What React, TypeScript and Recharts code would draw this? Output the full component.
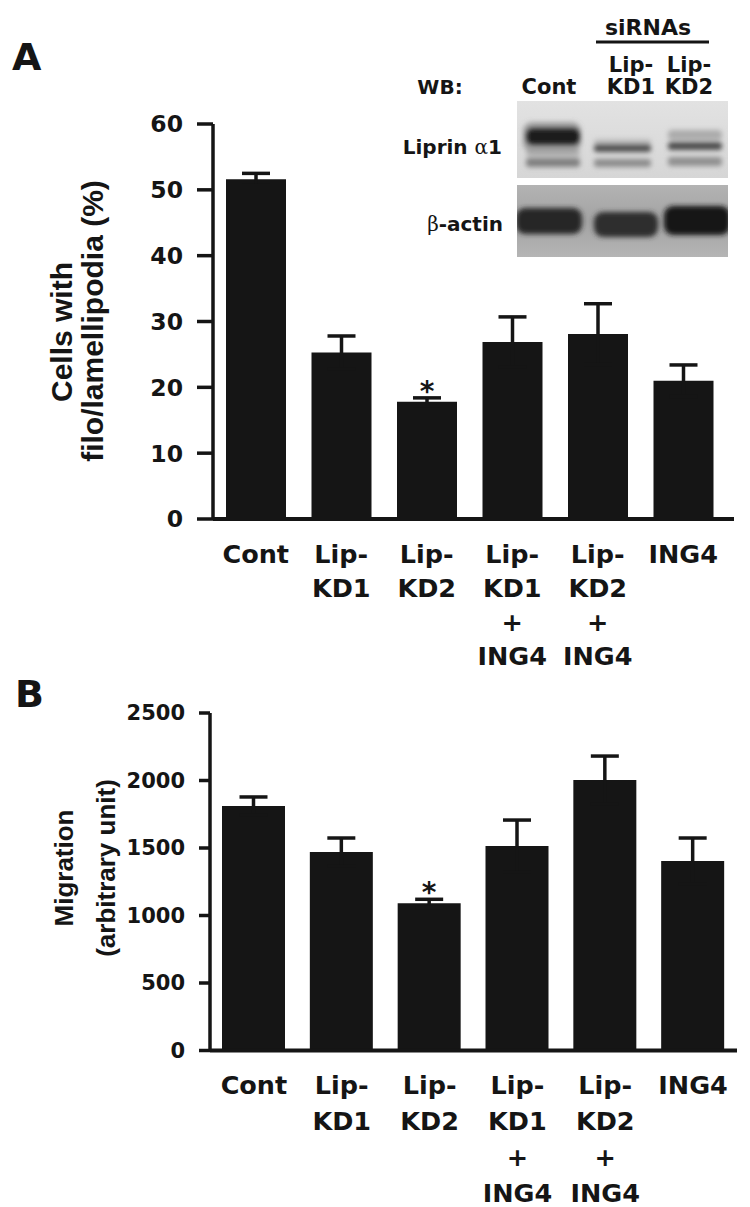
import React from 'react'
import { Bar, BarChart, ErrorBar, LabelList, XAxis, YAxis } from 'recharts'

const categories = ['Cont', 'Lip-\nKD1', 'Lip-\nKD2', 'Lip-\nKD1\n+\nING4', 'Lip-\nKD2\n+\nING4', 'ING4']
const filoValues = [51.6, 25.3, 17.8, 26.9, 28.1, 21.0]
const filoErrors = [0.9, 2.5, 0.6, 3.8, 4.6, 2.4]
const migrationValues = [1811, 1470, 1090, 1515, 2004, 1404]
const migrationErrors = [67, 104, 30, 192, 177, 170]
const significance = ['', '', '*', '', '', '']
const filoTicks = [0, 10, 20, 30, 40, 50, 60]
const migrationTicks = [0, 500, 1000, 1500, 2000, 2500]

const INK = '#151515'
const BOLD = 'DejaVu Sans, sans-serif'
const ARIAL = 'Liberation Sans, Arial, sans-serif'

const filoData = categories.map((name, i) => ({ name, value: filoValues[i], err: filoErrors[i], sig: significance[i] }))
const migrationData = categories.map((name, i) => ({ name, value: migrationValues[i], err: migrationErrors[i], sig: significance[i] }))

function CategoryTick(props: any) {
  const { x, y, payload, firstGap, lineGap } = props
  const lines = String(payload.value).split('\n')
  return (
    <text x={x} y={y + firstGap} textAnchor="middle" fontFamily={BOLD} fontWeight={700} fontSize={25.5} fill={INK}>
      {lines.map((l, i) => (
        <tspan key={i} x={x} dy={i === 0 ? 0 : lineGap}>{l}</tspan>
      ))}
    </text>
  )
}

function Star(props: any) {
  const { x, y, width, value } = props
  if (!value) return null
  return (
    <text x={x + width / 2} y={y - 1} textAnchor="middle" fontFamily={BOLD} fontWeight={700} fontSize={28} fill={INK}>
      {value}
    </text>
  )
}

// western blot inset, drawn as soft blurred bands
function Blot() {
  return (
    <g>
      <defs>
        <filter id="blur" x="-30%" y="-100%" width="160%" height="300%">
          <feGaussianBlur stdDeviation="2.8" />
        </filter>
        <linearGradient id="topBg" x1="0" y1="0" x2="0" y2="1">
          <stop offset="0" stopColor="#e2e2e2" />
          <stop offset="1" stopColor="#d6d6d6" />
        </linearGradient>
        <linearGradient id="botBg" x1="0" y1="0" x2="0" y2="1">
          <stop offset="0" stopColor="#b3b3b3" />
          <stop offset="0.5" stopColor="#a3a3a3" />
          <stop offset="1" stopColor="#b5b5b5" />
        </linearGradient>
        <clipPath id="topClip"><rect x={517} y={101} width={211} height={77} /></clipPath>
        <clipPath id="botClip"><rect x={517} y={185} width={211} height={72} /></clipPath>
      </defs>
      <rect x={517} y={101} width={211} height={77} fill="url(#topBg)" />
      <g clipPath="url(#topClip)">
        <g filter="url(#blur)">
          <rect x={523} y={122} width={58} height={30} rx={9} fill="#6a6a6a" opacity={0.55} />
          <rect x={526} y={128} width={54} height={17} rx={7} fill="#1c1c1c" />
          <rect x={526} y={150} width={54} height={6} rx={3} fill="#9a9a9a" opacity={0.7} />
          <rect x={526} y={158} width={54} height={9} rx={3} fill="#808080" />
          <rect x={594} y={139} width={57} height={6} rx={3} fill="#bdbdbd" />
          <rect x={594} y={144} width={57} height={8} rx={3} fill="#505050" />
          <rect x={594} y={159} width={57} height={8} rx={3} fill="#8c8c8c" />
          <rect x={668} y={130} width={54} height={10} rx={4} fill="#ababab" />
          <rect x={668} y={142} width={54} height={8} rx={3} fill="#4c4c4c" />
          <rect x={668} y={157} width={54} height={9} rx={3} fill="#909090" />
        </g>
      </g>
      <rect x={517} y={185} width={211} height={72} fill="url(#botBg)" />
      <g clipPath="url(#botClip)">
        <g filter="url(#blur)">
          <rect x={516} y={208} width={66} height={26} rx={9} fill="#282828" />
          <rect x={594} y={212} width={64} height={25} rx={9} fill="#2d2d2d" />
          <rect x={664} y={206} width={66} height={29} rx={9} fill="#151515" />
        </g>
      </g>
    </g>
  )
}

function Overlay() {
  return (
    <svg width={750} height={1207} style={{ position: 'absolute', left: 0, top: 0, pointerEvents: 'none' }}>
      <text x={12} y={70} fontFamily={BOLD} fontWeight={700} fontSize={38} fill={INK}>A</text>
      <text x={15} y={707} fontFamily={BOLD} fontWeight={700} fontSize={38} fill={INK}>B</text>

      <text transform="translate(72,332) rotate(-90)" textAnchor="middle" fontFamily={ARIAL} fontWeight={700} fontSize={30} fill={INK}>Cells with</text>
      <text transform="translate(103,321) rotate(-90)" textAnchor="middle" fontFamily={ARIAL} fontWeight={700} fontSize={30} fill={INK}>filo/lamellipodia (%)</text>
      <text transform="translate(72.5,868) rotate(-90)" textAnchor="middle" fontFamily={ARIAL} fontWeight={700} fontSize={26} fill={INK}>Migration</text>
      <text transform="translate(114.5,868) rotate(-90)" textAnchor="middle" fontFamily={ARIAL} fontWeight={700} fontSize={26} fill={INK}>(arbitrary unit)</text>

      <g fontFamily={BOLD} fontWeight={700} fill={INK}>
        <text x={648} y={35} textAnchor="middle" fontSize={22}>siRNAs</text>
        <line x1={596} y1={42} x2={709} y2={42} stroke={INK} strokeWidth={3} />
        <text x={631} y={72} textAnchor="middle" fontSize={21}>Lip-</text>
        <text x={689} y={72} textAnchor="middle" fontSize={21}>Lip-</text>
        <text x={631} y={94} textAnchor="middle" fontSize={21}>KD1</text>
        <text x={689} y={94} textAnchor="middle" fontSize={21}>KD2</text>
        <text x={549} y={94} textAnchor="middle" fontSize={21}>Cont</text>
        <text x={440} y={94} textAnchor="middle" fontSize={20}>WB:</text>
        <text x={502} y={154} textAnchor="end" fontSize={20}>
          Liprin <tspan fontFamily="DejaVu Serif, serif" fontWeight={400}>α</tspan>1
        </text>
        <text x={503} y={231} textAnchor="end" fontSize={20}>
          <tspan fontFamily="DejaVu Serif, serif" fontWeight={400}>β</tspan>-actin
        </text>
      </g>
      <Blot />
    </svg>
  )
}

const axisLine = { stroke: INK, strokeWidth: 3.5 }

export default function App() {
  return (
    <div style={{ position: 'absolute', left: 0, top: 0, width: 750, height: 1207, background: '#fff' }}>
      <div style={{ position: 'absolute', left: 0, top: 0 }}>
        <BarChart width={750} height={690} data={filoData} margin={{ top: 124, right: 16, bottom: 11, left: 0 }}>
          <XAxis dataKey="name" height={160} interval={0} padding={{ left: 0, right: 8 }}
            axisLine={{ stroke: INK, strokeWidth: 4 }} tickLine={false} tickSize={0} tickMargin={0}
            tick={(p: any) => <CategoryTick {...p} firstGap={44} lineGap={34} />} />
          <YAxis width={213} domain={[0, 60]} ticks={filoTicks} interval={0}
            axisLine={axisLine} tickLine={axisLine} tickSize={16} tickMargin={14}
            tick={{ fontFamily: BOLD, fontWeight: 700, fontSize: 23.5, fill: INK }} />
          <Bar dataKey="value" fill={INK} barSize={60} isAnimationActive={false}>
            <ErrorBar dataKey="err" direction="y" width={14} stroke={INK} strokeWidth={3.5} />
            <LabelList dataKey="sig" content={(p: any) => <Star {...p} />} />
          </Bar>
        </BarChart>
      </div>
      <div style={{ position: 'absolute', left: 0, top: 690 }}>
        <BarChart width={750} height={517} data={migrationData} margin={{ top: 23, right: 13, bottom: 6.5, left: 0 }}>
          <XAxis dataKey="name" height={150} interval={0}
            axisLine={{ stroke: INK, strokeWidth: 4 }} tickLine={false} tickSize={0} tickMargin={0}
            tick={(p: any) => <CategoryTick {...p} firstGap={43} lineGap={36} />} />
          <YAxis width={210} domain={[0, 2500]} ticks={migrationTicks} interval={0}
            axisLine={axisLine} tickLine={axisLine} tickSize={11} tickMargin={14}
            tick={{ fontFamily: BOLD, fontWeight: 700, fontSize: 21, fill: INK }} />
          <Bar dataKey="value" fill={INK} barSize={63} isAnimationActive={false}>
            <ErrorBar dataKey="err" direction="y" width={14} stroke={INK} strokeWidth={3.5} />
            <LabelList dataKey="sig" content={(p: any) => <Star {...p} />} />
          </Bar>
        </BarChart>
      </div>
      <Overlay />
    </div>
  )
}
